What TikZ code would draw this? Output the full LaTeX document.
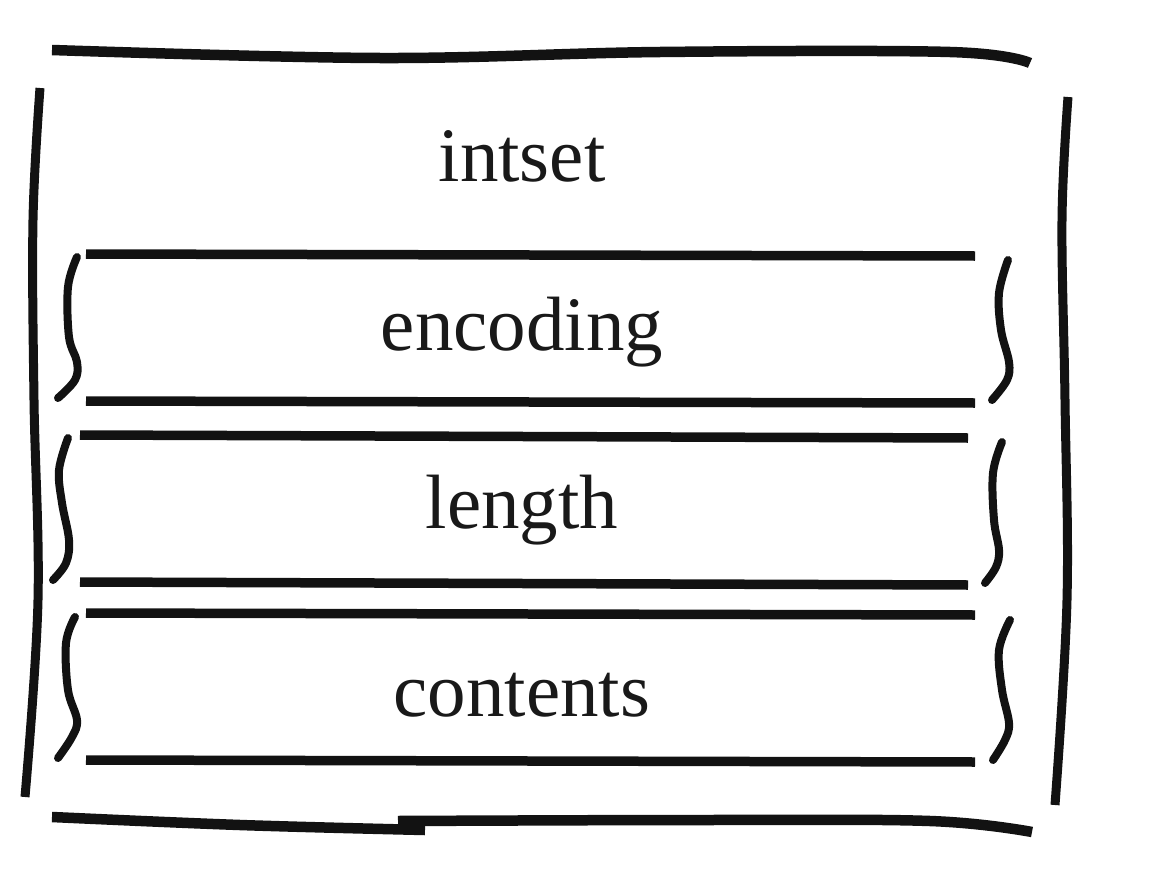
\documentclass[tikz,border=0pt]{standalone}
\usepackage{fontspec}
\setmainfont{Liberation Serif}
\begin{document}
\begin{tikzpicture}[x=1pt,y=-1pt,
  ink/.style={draw=black!93},
  outerline/.style={ink,line width=10.5pt},
  innerline/.style={ink,line width=9.5pt},
  bracestroke/.style={ink,line width=8pt,line cap=round},
  lbl/.style={font=\fontsize{77}{86}\selectfont,anchor=base,inner sep=0pt,text=black!90}]
\useasboundingbox (0,0) rectangle (1152,878);
% outer frame
\draw[outerline] plot[smooth,tension=0.6] coordinates {(52,50) (380,58) (660,52) (950,52) (1030,63)};
\draw[outerline] plot[smooth,tension=0.6] coordinates {(52,817) (240,825) (425,830)};
\draw[outerline] plot[smooth,tension=0.6] coordinates {(398,821) (700,820) (930,821) (1032,832)};
\draw[outerline,line width=9pt] plot[smooth,tension=0.6] coordinates {(40,88) (33,220) (34,400) (38,600) (25,797)};
\draw[outerline,line width=9pt] plot[smooth,tension=0.6] coordinates {(1068,97) (1062,220) (1065,400) (1067,600) (1055,805)};
% labels
\node[lbl] (intset) at (522,181) {intset};
\node[lbl] (encoding) at (522,350) {encoding};
\node[lbl] (length) at (522,528) {length};
\node[lbl] (contents) at (522,716) {contents};
% encoding box
\draw[innerline] (86,254) -- (975,256);
\draw[innerline] (86,401) -- (975,403);
\draw[bracestroke] plot[smooth,tension=0.6] coordinates {(77,257) (68,287) (69,337) (77,362) (75,380) (58,398)};
\draw[bracestroke] plot[smooth,tension=0.6] coordinates {(1008,260) (999,293) (1001,330) (1009,362) (1007,380) (992,400)};
% length box
\draw[innerline] (80,435) -- (968,438);
\draw[innerline] (80,582) -- (968,585);
\draw[bracestroke] plot[smooth,tension=0.6] coordinates {(68,438) (59,470) (62,503) (69,540) (66,563) (53,580)};
\draw[bracestroke] plot[smooth,tension=0.6] coordinates {(1002,442) (993,473) (994,520) (999,550) (996,567) (985,583)};
% contents box
\draw[innerline] (86,613) -- (975,615);
\draw[innerline] (86,760) -- (975,762);
\draw[bracestroke] plot[smooth,tension=0.6] coordinates {(75,617) (66,643) (68,690) (77,720) (72,737) (58,758)};
\draw[bracestroke] plot[smooth,tension=0.6] coordinates {(1010,620) (999,650) (1002,690) (1009,723) (1005,740) (993,760)};
\end{tikzpicture}
\end{document}
